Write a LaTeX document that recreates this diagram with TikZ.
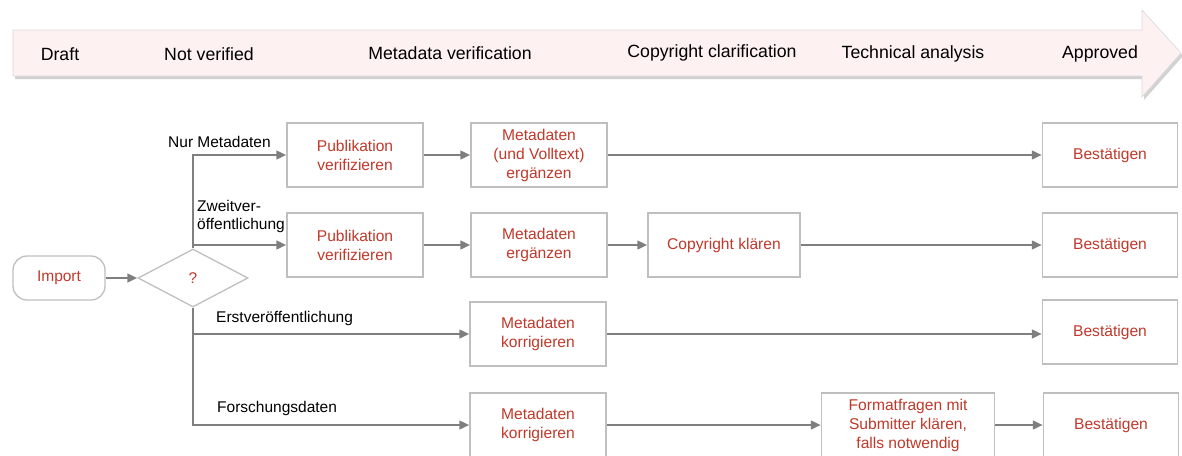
\documentclass[tikz,border=0pt]{standalone}
\usepackage{fontspec}
\setmainfont{Liberation Sans}
\usetikzlibrary{arrows.meta,shapes.geometric,shadows}
\definecolor{boxred}{HTML}{C0392B}
\definecolor{conngray}{HTML}{7F7F7F}
\definecolor{boxline}{HTML}{BFBFBF}
\definecolor{bannerfill}{HTML}{FDF1F1}
\tikzset{
  stepbox/.style={draw=boxline, line width=1.3pt, fill=white, minimum width=136pt, minimum height=64pt,
    text=boxred, align=center, inner sep=2pt, font=\fontsize{15.6}{19}\selectfont},
  conn/.style={draw=conngray, line width=2.7pt, -{Triangle[length=10pt,width=8.5pt]}},
  lbl/.style={font=\fontsize{15.5}{18}\selectfont, text=black, inner sep=0pt, align=left},
  phase/.style={font=\fontsize{17.7}{20}\selectfont, text=black, inner sep=0pt},
}
\begin{document}
\begin{tikzpicture}[x=1pt,y=-1pt]
\useasboundingbox (0,0) rectangle (1182,455);
% banner arrow
\draw[draw=boxline!60, line width=0.6pt, fill=bannerfill, drop shadow={shadow xshift=2pt, shadow yshift=-3pt, fill=black!35}]
  (13,30) -- (1142,30) -- (1142,10) -- (1181,53) -- (1142,97) -- (1142,76) -- (13,76) -- cycle;
\node[phase] (ph1) at (60,54) {Draft};
\node[phase] (ph2) at (209,54) {Not verified};
\node[phase] (ph3) at (450,53) {Metadata verification};
\node[phase] (ph4) at (712,53) {Copyright clarification};
\node[phase] (ph5) at (913,54) {Technical analysis};
\node[phase] (ph6) at (1100,54) {Approved};

% start
\node[draw=boxline, line width=1.3pt, rounded corners=14pt, minimum width=92pt, minimum height=44pt,
  text=boxred, font=\fontsize{15.5}{18}\selectfont] (imp) at (59,278) {Import};
\node[draw=boxline, line width=1.3pt, diamond, aspect=1.9, minimum width=110pt, minimum height=58pt, inner sep=0pt,
  text=boxred, font=\fontsize{15.5}{18}\selectfont] (d) at (193,278) {?};

% row 1
\node[stepbox] (p1) at (355,155) {Publikation\\verifizieren};
\node[stepbox] (m1) at (539,155) {Metadaten\\(und Volltext)\\ergänzen};
\node[stepbox, minimum width=135pt] (b1) at (1110,155) {Bestätigen};
% row 2
\node[stepbox] (p2) at (355,245) {Publikation\\verifizieren};
\node[stepbox] (m2) at (539,245) {Metadaten\\ergänzen};
\node[stepbox, minimum width=152pt] (c2) at (724,245) {Copyright klären};
\node[stepbox, minimum width=135pt] (b2) at (1110,245) {Bestätigen};
% row 3
\node[stepbox] (m3) at (538,334) {Metadaten\\korrigieren};
\node[stepbox, minimum width=135pt] (b3) at (1110,332) {Bestätigen};
% row 4
\node[stepbox] (m4) at (538,425) {Metadaten\\korrigieren};
\node[stepbox, minimum width=173pt] (f4) at (908,425) {Formatfragen mit\\Submitter klären,\\falls notwendig};
\node[stepbox, minimum width=135pt] (b4) at (1111,425) {Bestätigen};

% labels
\node[lbl, anchor=south west] (l1) at (168,148) {Nur Metadaten};
\node[lbl, anchor=south west] (l2) at (197,233) {Zweitver-\\öffentlichung};
\node[lbl, anchor=south west] (l3) at (216,326) {Erstveröffentlichung};
\node[lbl, anchor=south west] (l4) at (217,416) {Forschungsdaten};

% connectors
\draw[conn] (imp) -- (d);
\draw[conn] (d.north) |- (p1.west);
\draw[conn] (d.north |- p2.west) -- (p2.west);
\draw[conn] (d.south) |- (m4.west);
\draw[conn] (d.south |- m3.west) -- (m3.west);
\draw[conn] (p1) -- (m1);
\draw[conn] (m1) -- (b1);
\draw[conn] (p2) -- (m2);
\draw[conn] (m2) -- (c2);
\draw[conn] (c2) -- (b2);
\draw[conn] (m3) -- (m3 -| b3.west);
\draw[conn] (m4) -- (f4);
\draw[conn] (f4) -- (b4);
\end{tikzpicture}
\end{document}
